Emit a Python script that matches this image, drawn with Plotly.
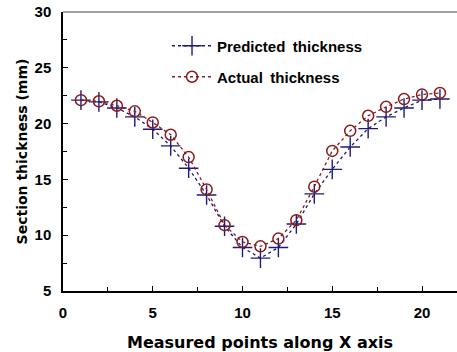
import plotly.graph_objects as go

points = list(range(1, 22))
predicted = [22.1, 21.95, 21.4, 20.6, 19.5, 18.0, 16.0, 13.6, 10.8, 8.9, 7.95,
             8.9, 11.0, 13.7, 15.9, 17.9, 19.55, 20.6, 21.4, 22.1, 22.2]
actual = [22.1, 22.0, 21.6, 21.1, 20.1, 19.0, 17.0, 14.1, 10.9, 9.4, 9.0,
          9.7, 11.35, 14.35, 17.55, 19.35, 20.7, 21.5, 22.2, 22.6, 22.75]

blue = "#1c1c78"
red = "#8b1a1a"
font = "Liberation Sans, Arial, sans-serif"
tfont = "DejaVu Sans, Verdana, sans-serif"

fig = go.Figure()
fig.add_trace(go.Scatter(
    x=points, y=predicted, name="Predicted\u2002thickness", mode="lines+markers",
    line=dict(color=blue, width=1.3, dash="dot"),
    marker=dict(symbol="cross-thin-open", size=14, color=blue,
                line=dict(color=blue, width=1.4)),
    legend="legend"))
fig.add_trace(go.Scatter(
    x=points, y=actual, name="Actual\u2002thickness", mode="lines+markers",
    line=dict(color=red, width=1.3, dash="dot"),
    marker=dict(symbol="circle-open", size=11, color=red,
                line=dict(color=red, width=1.5)),
    legend="legend2"))

leg = dict(xanchor="left", yanchor="middle", bgcolor="rgba(0,0,0,0)",
           font=dict(family=font, size=15, color="black", weight="bold"),
           itemwidth=40, borderwidth=0)
fig.update_layout(
    width=457, height=352,
    margin=dict(l=63, r=0, t=12, b=61),
    plot_bgcolor="white", paper_bgcolor="white",
    font=dict(family=font, color="black"),
    showlegend=True, hovermode=False,
    legend=dict(leg, x=0.264, y=(291 - 46) / 279),
    legend2=dict(leg, x=0.264, y=(291 - 77) / 279),
    shapes=[dict(type="line", xref="paper", yref="paper", x0=0, x1=1, y0=1, y1=1,
                 line=dict(color="#a0a0a0", width=2))],
)
fig.update_xaxes(
    range=[0, 21.95], tickvals=[0, 5, 10, 15, 20], ticks="inside", ticklen=5,
    tickcolor="black", showgrid=False, zeroline=False, automargin=False,
    showline=True, linecolor="black", linewidth=1.5,
    minor=dict(tickvals=[2.5, 7.5, 12.5, 17.5], ticks="inside", ticklen=4, tickcolor="black"),
    tickfont=dict(size=15, family=font, weight="bold"),
    ticklabelstandoff=7,
    title=dict(text="Measured points along X axis", standoff=19,
               font=dict(size=16, family=tfont, weight="bold")),
)
fig.update_yaxes(
    range=[5, 30], tickvals=[5, 10, 15, 20, 25, 30], ticks="inside", ticklen=5,
    tickcolor="black", showgrid=False, zeroline=False, automargin=False,
    showline=True, linecolor="black", linewidth=1.5,
    minor=dict(tickvals=[7.5, 12.5, 17.5, 22.5, 27.5], ticks="inside", ticklen=4, tickcolor="black"),
    tickfont=dict(size=15, family=font, weight="bold"),
    ticklabelstandoff=7,
    title=dict(text="Section thickness (mm)", standoff=4,
               font=dict(size=14, family=tfont, weight="bold")),
)

fig.write_html("out.html", config={"displayModeBar": False},
               post_script="document.body.style.margin='0';")
